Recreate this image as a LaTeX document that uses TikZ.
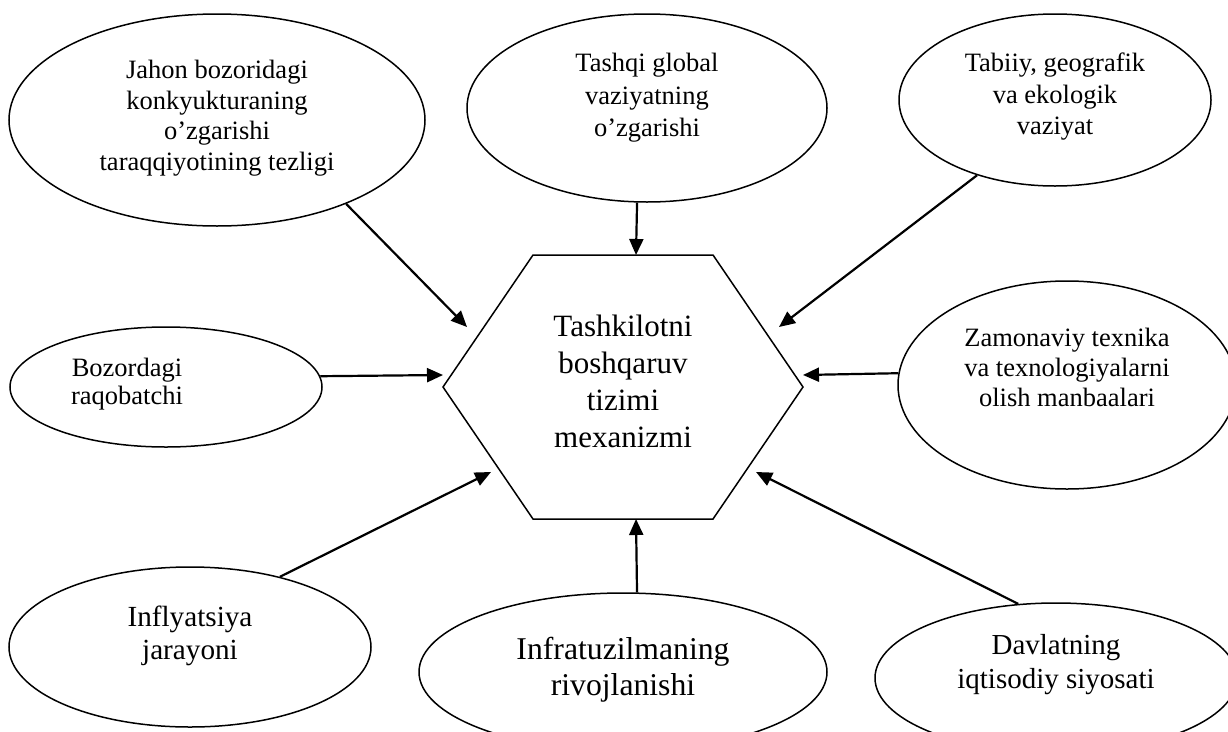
\documentclass[tikz,border=0pt]{standalone}
\usepackage{fontspec}
\setmainfont{Liberation Serif}
\usetikzlibrary{arrows.meta,shapes.geometric}
\begin{document}
\begin{tikzpicture}[x=1pt,y=-1pt,
  oval/.style={draw, ellipse, line width=1.5pt, inner sep=0pt},
  txt/.style={align=center, inner sep=0pt},
  arr/.style={line width=2.2pt, -{Triangle[length=16pt,width=14pt]}}
]
\clip (0,0) rectangle (1228,731);
\fill[white] (0,0) rectangle (1228,731);

% ellipses
\node[oval, minimum width=416pt, minimum height=212pt] (jahon) at (217,120) {};
\node[oval, minimum width=360pt, minimum height=188pt] (tashqi) at (647,108) {};
\node[oval, minimum width=312pt, minimum height=172pt] (tabiiy) at (1055,100) {};
\node[oval, minimum width=312pt, minimum height=120pt] (bozor) at (166,387) {};
\node[oval, minimum width=338pt, minimum height=208pt] (zamon) at (1067,385) {};
\node[oval, minimum width=362pt, minimum height=160pt] (infl) at (190,647) {};
\node[oval, minimum width=408pt, minimum height=158pt] (infra) at (623,672) {};
\node[oval, minimum width=362pt, minimum height=150pt] (davlat) at (1056,678) {};

% texts
\node[txt, font=\fontsize{26.5}{30.5}\selectfont] (jahonT) at (217,118) {Jahon bozoridagi\\konkyukturaning\\o’zgarishi\\taraqqiyotining tezligi};
\node[txt, font=\fontsize{26.5}{32.5}\selectfont] (tashqiT) at (647,98) {Tashqi global\\vaziyatning\\o’zgarishi};
\node[txt, font=\fontsize{26.5}{31.5}\selectfont] (tabiiyT) at (1055,97) {Tabiiy, geografik\\va ekologik\\vaziyat};
\node[txt, font=\fontsize{26.5}{28}\selectfont] (bozorT) at (127,384) {Bozordagi\\raqobatchi};
\node[txt, font=\fontsize{26.5}{30}\selectfont] (zamonT) at (1067,367) {Zamonaviy texnika\\va texnologiyalarni\\olish manbaalari};
\node[txt, font=\fontsize{29.2}{33}\selectfont] (inflT) at (190,636) {Inflyatsiya\\jarayoni};
\node[txt, font=\fontsize{31.7}{36}\selectfont] (infraT) at (623,670) {Infratuzilmaning\\rivojlanishi};
\node[txt, font=\fontsize{29}{34}\selectfont] (davlatT) at (1056,665) {Davlatning\\iqtisodiy siyosati};

% hexagon
\coordinate (h1) at (533,255);
\coordinate (h2) at (713,255);
\coordinate (h3) at (803,387);
\coordinate (h4) at (713,519);
\coordinate (h5) at (533,519);
\coordinate (h6) at (443,387);
\draw[line width=1.5pt, line join=miter] (h1) -- (h2) -- (h3) -- (h4) -- (h5) -- (h6) -- cycle;
\node[txt, font=\fontsize{31}{37}\selectfont] (hex) at (623,381) {Tashkilotni\\boshqaruv\\tizimi\\mexanizmi};

% arrow tips
\coordinate (tJ) at (467,327);
\coordinate (tT) at (636,255);
\coordinate (tB) at (779,327);
\coordinate (tZ) at (443,375);
\coordinate (tM) at (803,375);
\coordinate (tF) at (491,472);
\coordinate (tI) at (636,519);
\coordinate (tD) at (756,472);

% connectors
\draw[arr] (jahon.-33.6) -- (tJ);
\draw[arr] (tashqi.-96.7) -- (tT);
\draw[arr] (tabiiy.-136.1) -- (tB);
\draw[arr] (bozor.4.4) -- (tZ);
\draw[arr] (zamon.176.6) -- (tM);
\draw[arr] (infl.38.5) -- (tF);
\draw[arr] (infra.80.7) -- (tI);
\draw[arr] (davlat.117.5) -- (tD);
\end{tikzpicture}
\end{document}
